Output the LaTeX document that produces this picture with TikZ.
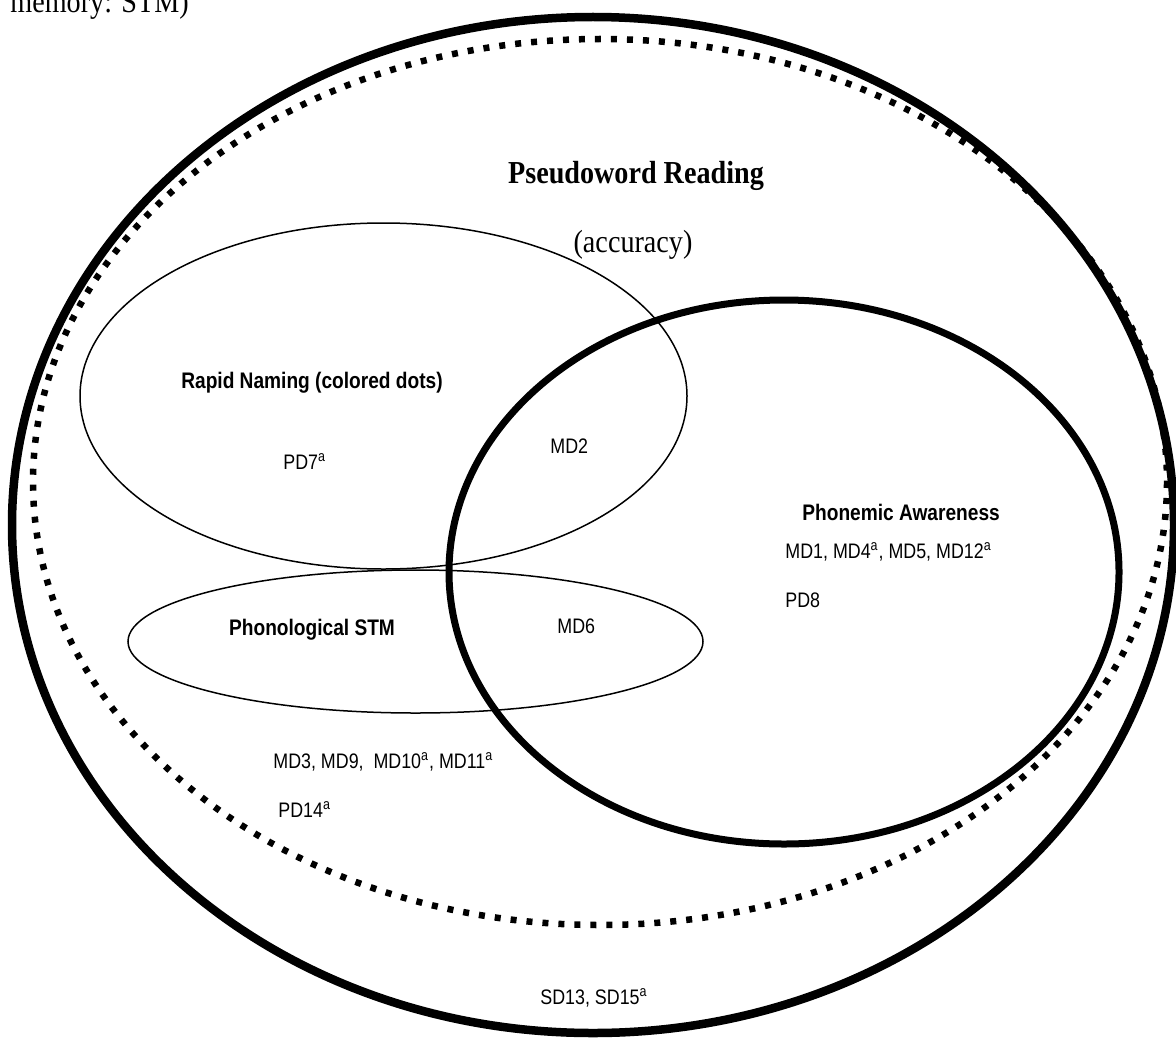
\documentclass[tikz,border=0pt]{standalone}
\usepackage{fontspec}
\setmainfont{Liberation Serif}[FakeStretch=0.88]
\newfontfamily\arl{Liberation Sans}[FakeStretch=0.85]
\begin{document}
\begin{tikzpicture}[x=0.5pt,y=-0.5pt,
  setline/.style={line width=0.75pt},
  thickring/.style={line width=4.25pt},
  dotring/.style={line width=3.25pt, dash pattern=on 3pt off 5pt},
  pawline/.style={line width=3.5pt},
  ttl/.style={font=\fontsize{16}{19}\selectfont\bfseries, inner sep=0, anchor=base},
  sub/.style={font=\fontsize{16}{19}\selectfont, inner sep=0, anchor=base},
  lbl/.style={font=\arl\fontsize{11.25}{13}\selectfont\bfseries, inner sep=0, anchor=base},
  itm/.style={font=\arl\fontsize{10.5}{12}\selectfont, inner sep=0, anchor=base west}]
\useasboundingbox (0,0) rectangle (1176,1038);
\clip (0,0) rectangle (1176,1038);
% sets
\draw[thickring] (593,525) ellipse [x radius=581, y radius=508];
\draw[dotring] (600,482) ellipse [x radius=567, y radius=443];
\draw[setline] (383.5,396) ellipse [x radius=303.5, y radius=173];
\draw[setline] (415.5,641.5) ellipse [x radius=287.5, y radius=71.5];
\draw[pawline] (784,572) ellipse [x radius=335, y radius=272];
% texts
\node[sub, anchor=base west] (mem) at (10,13) {memory: STM)};
\node[ttl] (title) at (636,183) {Pseudoword Reading};
\node[sub] (acc) at (633,252) {(accuracy)};
\node[lbl] (rn) at (312,388) {Rapid Naming (colored dots)};
\node[itm] (pd7) at (283,469) {PD7\textsuperscript{a}};
\node[itm] (md2) at (550,453) {MD2};
\node[lbl, anchor=base west] (pa) at (802,520) {Phonemic Awareness};
\node[itm] (pam) at (785,558) {MD1, MD4\textsuperscript{a}, MD5, MD12\textsuperscript{a}};
\node[itm] (pd8) at (785,607) {PD8};
\node[lbl] (stm) at (312,635) {Phonological STM};
\node[itm] (md6) at (557,633) {MD6};
\node[itm] (stmm) at (273,768) {MD3, MD9,\ \ MD10\textsuperscript{a}, MD11\textsuperscript{a}};
\node[itm] (pd14) at (278,817) {PD14\textsuperscript{a}};
\node[itm] (sd) at (540,1004) {SD13, SD15\textsuperscript{a}};
\end{tikzpicture}
\end{document}
